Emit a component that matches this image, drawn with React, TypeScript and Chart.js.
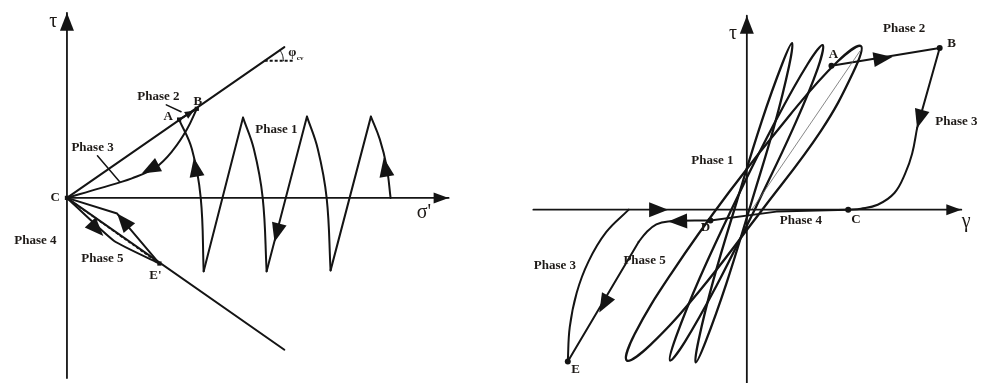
import { useEffect, useRef } from "react";
import { Chart, registerables } from "chart.js";

Chart.register(...registerables);

type Pt = [number, number];

// ---------- Left diagram: stress path in the σ'–τ plane ----------
const sigmaAxis: Pt[] = [[0, 0], [19.4, 0]];
const tauAxisLeft: Pt[] = [[0, -9.2], [0, 9.45]];
const envelopeUpper: Pt[] = [[0, 0], [11.05, 7.7]];
const envelopeLower: Pt[] = [[0, 0], [11.05, -7.75]];
const phiCvRef: Pt[] = [[10.05, 7.0], [11.55, 7.0]];
const phiCvArc: Pt[] = [[10.83, 7.55], [10.96, 7.28], [11.0, 7.0]];

// Phase 1: cyclic loading, split into rising curves and falling straight legs
const phase1Rise3: Pt[] = [[16.45, 0], [16.25, 1.6], [15.9, 3.0], [15.45, 4.15]];
const phase1Fall3: Pt[] = [[15.45, 4.15], [13.4, -3.7]];
const phase1Rise2: Pt[] = [[13.4, -3.7], [13.2, 0], [12.75, 2.5], [12.2, 4.15]];
const phase1Fall2: Pt[] = [[12.2, 4.15], [10.15, -3.75]];
const phase1Rise1: Pt[] = [[10.15, -3.75], [9.95, 0], [9.5, 2.5], [8.95, 4.1]];
const phase1Fall1: Pt[] = [[8.95, 4.1], [6.95, -3.75]];
const phase1ToA: Pt[] = [[6.95, -3.75], [6.8, 0], [6.35, 2.5], [5.7, 4.0]];

const phase2Left: Pt[] = [[5.7, 4.0], [6.6, 4.55]];
const phase2Leader: Pt[] = [[5.05, 4.75], [5.8, 4.4]];
const phase3Left: Pt[] = [[6.6, 4.55], [6.1, 3.5], [5.4, 2.45], [4.5, 1.55], [3.3, 1.0], [1.7, 0.5], [0, 0]];
const phase3Leader: Pt[] = [[1.55, 2.15], [2.7, 0.8]];
const phase4Left: Pt[] = [[0, 0], [2.4, -2.2], [4.7, -3.35]];
const phase5Left: Pt[] = [[4.7, -3.35], [2.55, -0.8], [0, 0]];
const chordCE: Pt[] = [[0, 0], [4.7, -3.35]];
const pointsLeft: Pt[] = [[5.7, 4.0], [6.6, 4.55], [0, 0], [4.7, -3.35]];

// ---------- Right diagram: γ–τ response ----------
const gammaAxis: Pt[] = [[-10.85, 0], [10.9, 0]];
const tauAxisRight: Pt[] = [[0, -8.85], [0, 9.9]];
const loopWide: Pt[] = [
  [0.6, -0.25], [-2.45, -4.2], [-4.9, -6.9], [-6.1, -7.7], [-5.7, -6.35], [-3.8, -3.2],
  [-0.9, 0.9], [2.2, 4.85], [4.6, 7.55], [5.8, 8.35], [5.4, 7.0], [3.75, 4.0], [0.6, -0.25],
];
const loopMid: Pt[] = [
  [0.45, 0.1], [-1.55, -3.9], [-3.15, -6.75], [-3.9, -7.7], [-3.6, -6.5], [-2.4, -3.5],
  [-0.5, 0.6], [1.5, 4.6], [3.1, 7.45], [3.85, 8.4], [3.6, 7.2], [2.35, 4.15], [0.45, 0.1],
];
const loopNarrow: Pt[] = [
  [0.2, 0.25], [-1.05, -3.8], [-2.1, -6.75], [-2.6, -7.8], [-2.45, -6.65], [-1.7, -3.6],
  [-0.5, 0.45], [0.75, 4.5], [1.8, 7.45], [2.3, 8.5], [2.15, 7.35], [1.4, 4.3], [0.2, 0.25],
];
const backbone: Pt[] = [[5.75, 8.1], [0.25, 0]];
const phase2Right: Pt[] = [[4.3, 7.35], [9.8, 8.25]];
const phase3RightDrop: Pt[] = [[9.8, 8.25], [8.65, 4.15]];
const phase3RightCurve: Pt[] = [[8.65, 4.15], [8.4, 2.85], [8.05, 1.85], [7.5, 0.85], [6.65, 0.25], [5.8, 0.05], [5.15, 0]];
const phase4Right: Pt[] = [[5.15, 0], [1.5, -0.1], [-1.85, -0.55]];
const phase5RightBend: Pt[] = [[-1.85, -0.55], [-4.0, -0.6], [-4.6, -0.75], [-5.1, -1.15], [-5.5, -1.65]];
const phase5RightDrop: Pt[] = [[-5.5, -1.65], [-9.1, -7.75]];
const phase3RightReturn: Pt[] = [[-9.1, -7.75], [-9.0, -6.0], [-8.65, -4.25], [-8.05, -2.65], [-7.15, -1.15], [-6.0, 0]];
const pointsRight: Pt[] = [[4.3, 7.35], [9.8, 8.25], [5.15, 0], [-1.85, -0.55], [-9.1, -7.75]];

type Arrow = { at: Pt; from: Pt; kind: "axisBig" | "axis" | "path" | "small" };
type Label = { text: string; at: Pt; kind: "phase" | "letter" | "symbol" | "tiny" };

const arrowsLeft: Arrow[] = [
  { at: [0, 9.45], from: [0, 0], kind: "axisBig" },
  { at: [19.4, 0], from: [0, 0], kind: "axis" },
  { at: [16.1, 2.05], from: [16.45, 0], kind: "path" },
  { at: [10.55, -2.25], from: [12.2, 4.15], kind: "path" },
  { at: [6.45, 2.05], from: [6.8, 0], kind: "path" },
  { at: [6.45, 4.45], from: [5.7, 4.0], kind: "small" },
  { at: [3.8, 1.25], from: [4.65, 1.7], kind: "path" },
  { at: [1.85, -1.95], from: [0, 0], kind: "path" },
  { at: [2.55, -0.8], from: [4.7, -3.35], kind: "path" },
];

const labelsLeft: Label[] = [
  { text: "τ", at: [-0.7, 9.0], kind: "symbol" },
  { text: "σ'", at: [18.15, -0.75], kind: "symbol" },
  { text: "Phase 1", at: [10.65, 3.5], kind: "phase" },
  { text: "Phase 2", at: [4.65, 5.15], kind: "phase" },
  { text: "Phase 3", at: [1.3, 2.55], kind: "phase" },
  { text: "Phase 4", at: [-1.6, -2.2], kind: "phase" },
  { text: "Phase 5", at: [1.8, -3.1], kind: "phase" },
  { text: "A", at: [5.15, 4.15], kind: "letter" },
  { text: "B", at: [6.65, 4.9], kind: "letter" },
  { text: "C", at: [-0.6, 0], kind: "letter" },
  { text: "E'", at: [4.5, -3.95], kind: "letter" },
  { text: "φ", at: [11.45, 7.4], kind: "letter" },
  { text: "cv", at: [11.85, 7.15], kind: "tiny" },
];

const arrowsRight: Arrow[] = [
  { at: [0, 9.9], from: [0, 0], kind: "axisBig" },
  { at: [10.9, 0], from: [0, 0], kind: "axis" },
  { at: [-4.0, 0], from: [-6.0, 0], kind: "path" },
  { at: [7.4, 7.8], from: [4.3, 7.35], kind: "path" },
  { at: [8.65, 4.15], from: [9.8, 8.25], kind: "path" },
  { at: [-4.0, -0.6], from: [-1.85, -0.55], kind: "path" },
  { at: [-7.5, -5.25], from: [-5.5, -1.65], kind: "path" },
];

const labelsRight: Label[] = [
  { text: "τ", at: [-0.7, 9.0], kind: "symbol" },
  { text: "γ", at: [11.15, -0.6], kind: "symbol" },
  { text: "Phase 1", at: [-1.75, 2.5], kind: "phase" },
  { text: "Phase 2", at: [8.0, 9.25], kind: "phase" },
  { text: "Phase 3", at: [10.65, 4.5], kind: "phase" },
  { text: "Phase 3", at: [-9.75, -2.85], kind: "phase" },
  { text: "Phase 4", at: [2.75, -0.55], kind: "phase" },
  { text: "Phase 5", at: [-5.2, -2.6], kind: "phase" },
  { text: "A", at: [4.4, 7.9], kind: "letter" },
  { text: "B", at: [10.4, 8.5], kind: "letter" },
  { text: "C", at: [5.55, -0.5], kind: "letter" },
  { text: "D", at: [-2.1, -0.9], kind: "letter" },
  { text: "E", at: [-8.7, -8.15], kind: "letter" },
];

const INK = "#141414";
const TEXT = "#1e1a17";

const ARROW_SIZE: Record<Arrow["kind"], [number, number]> = {
  axisBig: [18, 7],
  axis: [15, 5.5],
  path: [19, 7.5],
  small: [9, 4],
};
const LABEL_FONT: Record<Label["kind"], string> = {
  phase: 'bold 13px "Liberation Serif"',
  letter: 'bold 13px "Liberation Serif"',
  symbol: '20px "Liberation Serif"',
  tiny: 'bold 7px "Liberation Serif"',
};

const schematicPlugin = {
  id: "schematic",
  afterDatasetsDraw(chart: any, _args: any, opts: any) {
    const { ctx, scales } = chart;
    const sx = (v: number) => scales.x.getPixelForValue(v);
    const sy = (v: number) => scales.y.getPixelForValue(v);
    ctx.save();
    (opts.arrows || []).forEach((a: Arrow) => {
      const tx = sx(a.at[0]);
      const ty = sy(a.at[1]);
      const fx = sx(a.from[0]);
      const fy = sy(a.from[1]);
      const len = Math.hypot(tx - fx, ty - fy) || 1;
      const ux = (tx - fx) / len;
      const uy = (ty - fy) / len;
      const [L, W] = ARROW_SIZE[a.kind];
      const bx = tx - ux * L;
      const by = ty - uy * L;
      ctx.beginPath();
      ctx.moveTo(tx, ty);
      ctx.lineTo(bx - uy * W, by + ux * W);
      ctx.lineTo(bx + uy * W, by - ux * W);
      ctx.closePath();
      ctx.fillStyle = INK;
      ctx.fill();
    });
    ctx.fillStyle = TEXT;
    ctx.textAlign = "center";
    ctx.textBaseline = "middle";
    (opts.labels || []).forEach((l: Label) => {
      ctx.font = LABEL_FONT[l.kind];
      ctx.fillText(l.text, sx(l.at[0]), sy(l.at[1]));
    });
    ctx.restore();
  },
};

const line = (pts: Pt[], extra: Record<string, unknown> = {}) => ({
  data: pts.map(([x, y]) => ({ x, y })),
  showLine: true,
  pointRadius: 0,
  borderColor: INK,
  backgroundColor: INK,
  borderWidth: 2,
  tension: 0,
  fill: false,
  borderCapStyle: "round",
  borderJoinStyle: "round",
  ...extra,
});

const markers = (pts: Pt[], style: string) => ({
  data: pts.map(([x, y]) => ({ x, y })),
  showLine: false,
  pointRadius: 3,
  pointStyle: style,
  pointBackgroundColor: INK,
  pointBorderColor: INK,
  pointBorderWidth: 0,
});

const curve = { tension: 0.4 };

const leftDatasets = [
  line(sigmaAxis, { borderWidth: 1.8 }),
  line(tauAxisLeft, { borderWidth: 1.8 }),
  line(envelopeUpper),
  line(envelopeLower),
  line(phiCvRef, { borderDash: [3, 2], borderCapStyle: "butt" }),
  line(phiCvArc, { borderWidth: 1, ...curve }),
  line(phase1Rise3, curve),
  line(phase1Fall3),
  line(phase1Rise2, curve),
  line(phase1Fall2),
  line(phase1Rise1, curve),
  line(phase1Fall1),
  line(phase1ToA, curve),
  line(phase2Left),
  line(phase2Leader, { borderWidth: 1.5 }),
  line(phase3Left, curve),
  line(phase3Leader, { borderWidth: 1.5 }),
  line(phase4Left, { tension: 0.15 }),
  line(phase5Left),
  line(chordCE, { borderWidth: 1.6, borderDash: [3, 2], borderCapStyle: "butt" }),
  markers(pointsLeft, "rect"),
];

const rightDatasets = [
  line(gammaAxis, { borderWidth: 1.8 }),
  line(tauAxisRight, { borderWidth: 1.8 }),
  line(backbone, { borderWidth: 0.8, borderColor: "#6a6a6a" }),
  line(loopWide, { borderWidth: 2.3, ...curve }),
  line(loopMid, { borderWidth: 2.3, ...curve }),
  line(loopNarrow, { borderWidth: 2.3, ...curve }),
  line(phase2Right),
  line(phase3RightDrop),
  line(phase3RightCurve, curve),
  line(phase4Right),
  line(phase5RightBend, curve),
  line(phase5RightDrop),
  line(phase3RightReturn, curve),
  markers(pointsRight, "circle"),
];

type PanelProps = {
  datasets: any[];
  arrows: Arrow[];
  labels: Label[];
  xRange: [number, number];
  yRange: [number, number];
  width: number;
  height: number;
  left: number;
};

function Panel({ datasets, arrows, labels, xRange, yRange, width, height, left }: PanelProps) {
  const ref = useRef<HTMLCanvasElement | null>(null);
  useEffect(() => {
    if (!ref.current) return;
    const chart = new Chart(ref.current, {
      type: "scatter",
      data: { datasets },
      options: {
        responsive: false,
        animation: false,
        devicePixelRatio: 1,
        events: [],
        layout: { padding: 0 },
        scales: {
          x: { type: "linear", display: false, min: xRange[0], max: xRange[1] },
          y: { type: "linear", display: false, min: yRange[0], max: yRange[1] },
        },
        plugins: {
          legend: { display: false },
          tooltip: { enabled: false },
          schematic: { arrows, labels },
        } as any,
      },
      plugins: [schematicPlugin],
    } as any);
    return () => chart.destroy();
  }, []);
  return (
    <canvas
      ref={ref}
      width={width}
      height={height}
      style={{ position: "absolute", left, top: 0, width, height }}
    />
  );
}

export default function App() {
  return (
    <div
      style={{
        position: "fixed",
        left: 0,
        top: 0,
        width: 984,
        height: 387,
        background: "#ffffff",
        overflow: "hidden",
      }}
    >
      <Panel
        datasets={leftDatasets}
        arrows={arrowsLeft}
        labels={labelsLeft}
        xRange={[-3.2, 21.3]}
        yRange={[-9.45, 9.9]}
        width={490}
        height={387}
        left={0}
      />
      <Panel
        datasets={rightDatasets}
        arrows={arrowsRight}
        labels={labelsRight}
        xRange={[-12.85, 11.85]}
        yRange={[-8.85, 10.5]}
        width={494}
        height={387}
        left={490}
      />
    </div>
  );
}
